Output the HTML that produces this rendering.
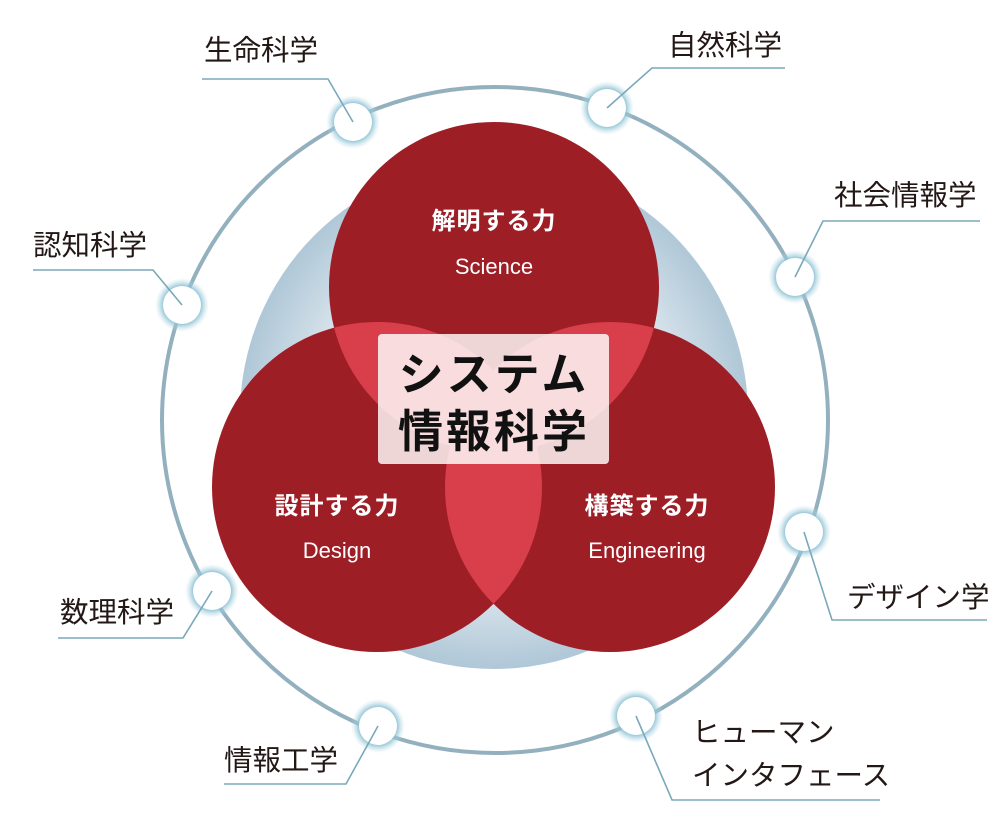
<!DOCTYPE html>
<html><head><meta charset="utf-8"><style>
html,body{margin:0;padding:0;background:#fff;}
svg{display:block}
.lb{font-family:"Liberation Sans","Noto Sans CJK JP",sans-serif;font-size:28.5px;fill:#231815;}
.w{font-family:"Liberation Sans","Noto Sans CJK JP",sans-serif;fill:#fff;text-anchor:middle;}
</style></head><body>
<svg width="1000" height="827" viewBox="0 0 1000 827" xmlns="http://www.w3.org/2000/svg">
<defs>
<radialGradient id="bg" cx="50%" cy="50%" r="50%">
<stop offset="0" stop-color="#ffffff"/><stop offset="0.55" stop-color="#eef3f7"/><stop offset="1" stop-color="#afc7d7"/>
</radialGradient>
<radialGradient id="glow" cx="50%" cy="50%" r="50%">
<stop offset="0.65" stop-color="#7db8cd" stop-opacity="1"/><stop offset="1" stop-color="#bfe0ea" stop-opacity="0"/>
</radialGradient>
<clipPath id="cT"><circle cx="494" cy="287" r="165"/></clipPath>
<clipPath id="cL"><circle cx="377" cy="487" r="165"/></clipPath>
</defs>
<circle cx="494" cy="415" r="254" fill="url(#bg)"/>
<circle cx="495" cy="420" r="333" fill="none" stroke="#93b0be" stroke-width="4"/>
<circle cx="494" cy="287" r="165" fill="#9e1e26"/>
<circle cx="377" cy="487" r="165" fill="#9e1e26"/>
<circle cx="610" cy="487" r="165" fill="#9e1e26"/>
<g clip-path="url(#cT)"><circle cx="377" cy="487" r="165" fill="#d83f4a"/><circle cx="610" cy="487" r="165" fill="#d83f4a"/></g>
<g clip-path="url(#cL)"><circle cx="610" cy="487" r="165" fill="#d83f4a"/></g>
<rect x="378" y="334" width="231" height="130" rx="4" fill="#fff" fill-opacity="0.82"/>
<text x="494" y="390" text-anchor="middle" font-family="Liberation Sans,Noto Sans CJK JP,sans-serif" font-size="45" font-weight="bold" fill="#111" letter-spacing="3">システム</text>
<text x="494" y="447" text-anchor="middle" font-family="Liberation Sans,Noto Sans CJK JP,sans-serif" font-size="45" font-weight="bold" fill="#111" letter-spacing="3">情報科学</text>
<text class="w" x="494" y="229" font-size="24" font-weight="bold" letter-spacing="1">解明する力</text>
<text class="w" x="494" y="274" font-size="22">Science</text>
<text class="w" x="337" y="514" font-size="24" font-weight="bold" letter-spacing="1">設計する力</text>
<text class="w" x="337" y="558" font-size="22">Design</text>
<text class="w" x="647" y="514" font-size="24" font-weight="bold" letter-spacing="1">構築する力</text>
<text class="w" x="647" y="558" font-size="22">Engineering</text>
<g>
<g transform="translate(353,122)"><circle r="27" fill="url(#glow)"/><circle r="19" fill="#fff"/></g>
<g transform="translate(607,108)"><circle r="27" fill="url(#glow)"/><circle r="19" fill="#fff"/></g>
<g transform="translate(795,277)"><circle r="27" fill="url(#glow)"/><circle r="19" fill="#fff"/></g>
<g transform="translate(182,305)"><circle r="27" fill="url(#glow)"/><circle r="19" fill="#fff"/></g>
<g transform="translate(804,532)"><circle r="27" fill="url(#glow)"/><circle r="19" fill="#fff"/></g>
<g transform="translate(212,591)"><circle r="27" fill="url(#glow)"/><circle r="19" fill="#fff"/></g>
<g transform="translate(636,716)"><circle r="27" fill="url(#glow)"/><circle r="19" fill="#fff"/></g>
<g transform="translate(378,726)"><circle r="27" fill="url(#glow)"/><circle r="19" fill="#fff"/></g>
</g>
<g fill="none" stroke="#7aa8ba" stroke-width="1.6">
<polyline points="353,122 328,79 202,79"/>
<polyline points="607,108 652,68 785,68"/>
<polyline points="795,277 823,221 980,221"/>
<polyline points="182,305 153,270 33,270"/>
<polyline points="804,532 832,620 987,620"/>
<polyline points="212,591 183,638 58,638"/>
<polyline points="636,716 672,800 880,800"/>
<polyline points="378,726 346,784 224,784"/>
</g>
<text class="lb" x="204" y="60">生命科学</text>
<text class="lb" x="668" y="55">自然科学</text>
<text class="lb" x="834" y="205">社会情報学</text>
<text class="lb" x="33" y="255">認知科学</text>
<text class="lb" x="847" y="607">デザイン学</text>
<text class="lb" x="60" y="622">数理科学</text>
<text class="lb" x="692" y="742">ヒューマン</text>
<text class="lb" x="692" y="785">インタフェース</text>
<text class="lb" x="224" y="770">情報工学</text>
</svg>
</body></html>
